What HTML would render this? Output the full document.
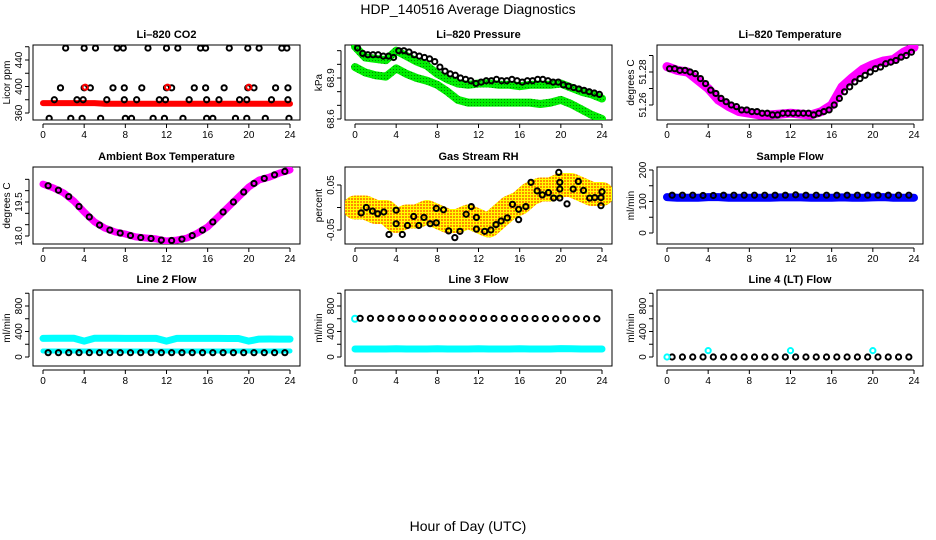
<!DOCTYPE html>
<html><head><meta charset="utf-8"><style>
html,body{margin:0;padding:0;background:#fff;}
svg{display:block;font-family:"Liberation Sans",sans-serif;}
</style></head><body>
<svg id="chart" width="936" height="540" viewBox="0 0 936 540" xmlns="http://www.w3.org/2000/svg">
<defs>
<pattern id="rhpat" width="3" height="3" patternUnits="userSpaceOnUse"><rect width="3" height="3" fill="#ffff00"/><rect width="2" height="2" fill="#ff8c00"/></pattern>
<pattern id="grpat" width="3" height="3" patternUnits="userSpaceOnUse"><rect width="3" height="3" fill="#00ee00"/><rect width="1" height="1" fill="#008800"/></pattern>
</defs>
<text x="468" y="14" text-anchor="middle" font-size="14">HDP_140516  Average Diagnostics</text>
<text x="468" y="531" text-anchor="middle" font-size="14">Hour of Day (UTC)</text>
</svg>
<script>
// ---- data ----
const hoursHourly = [0,1,2,3,4,5,6,7,8,9,10,11,12,13,14,15,16,17,18,19,20,21,22,23,24];
const hoursHalf = [0.25,0.75,1.25,1.75,2.25,2.75,3.25,3.75,4.25,4.75,5.25,5.75,6.25,6.75,7.25,7.75,8.25,8.75,9.25,9.75,10.25,10.75,11.25,11.75,12.25,12.75,13.25,13.75,14.25,14.75,15.25,15.75,16.25,16.75,17.25,17.75,18.25,18.75,19.25,19.75,20.25,20.75,21.25,21.75,22.25,22.75,23.25,23.75];
const xTicks = [0,4,8,12,16,20,24];

// CO2
const co2Band = [375,375,375,375,375,375,374,374,374,374,374,374,374,374,374,374,374,374,374,374,374,374,374,374,374];
const co2PtHours = [2.2,4.0,5.1,7.2,7.8,10.2,12.0,13.1,15.3,15.8,18.1,19.9,21.0,23.2,23.7,
 1.7,4.0,4.6,6.8,7.9,9.6,12.0,12.5,14.7,15.8,17.6,19.9,20.5,22.6,23.8,
 1.1,3.3,3.9,6.2,7.9,9.1,11.3,11.9,14.2,15.9,17.1,19.1,19.8,22.2,23.8,
 0.6,2.7,3.8,5.6,8.0,8.6,10.7,11.8,13.6,15.9,16.5,18.7,19.8,21.6,23.9];
const co2PtValues = [458,458,458,458,458,458,458,458,458,458,458,458,458,458,458,
 398,398,398,398,398,398,398,398,398,398,398,398,398,398,398,
 380,380,380,380,380,380,380,380,380,380,380,380,380,380,380,
 352,352,352,352,352,352,352,352,352,352,352,352,352,352,352];
const co2RedHours = [4.1,12.1,20.0];
const co2RedValues = [399,399,399];

// Pressure
const presUpper = [69.13,69.05,69.04,69.03,69.10,69.06,69.02,68.99,68.93,68.89,68.86,68.85,68.86,68.86,68.85,68.85,68.84,68.85,68.85,68.85,68.86,68.83,68.80,68.78,68.75];
const presLower = [68.98,68.94,68.92,68.91,68.97,68.93,68.90,68.88,68.85,68.80,68.74,68.72,68.72,68.72,68.72,68.72,68.72,68.72,68.71,68.72,68.74,68.71,68.67,68.63,68.60];
const presPts = [69.12,69.08,69.07,69.07,69.07,69.06,69.06,69.05,69.10,69.10,69.09,69.07,69.06,69.05,69.04,69.02,68.98,68.95,68.93,68.92,68.90,68.89,68.88,68.86,68.87,68.88,68.88,68.89,68.88,68.88,68.89,68.88,68.87,68.88,68.88,68.89,68.89,68.88,68.87,68.87,68.85,68.84,68.83,68.82,68.81,68.80,68.79,68.78];

// Li-820 Temperature
const tempBand = [51.2833,51.281,51.280,51.275,51.270,51.263,51.259,51.256,51.255,51.254,51.254,51.2545,51.255,51.2545,51.254,51.256,51.260,51.271,51.2766,51.2815,51.2845,51.2866,51.2876,51.292,51.295];
const tempPts = [51.282,51.282,51.281,51.281,51.280,51.279,51.276,51.273,51.269,51.267,51.264,51.262,51.260,51.259,51.257,51.257,51.256,51.256,51.255,51.255,51.254,51.254,51.255,51.255,51.255,51.255,51.255,51.255,51.254,51.255,51.256,51.257,51.260,51.264,51.268,51.271,51.274,51.276,51.278,51.280,51.282,51.283,51.285,51.286,51.287,51.289,51.290,51.292];

// Ambient
const ambBand = [20.29,20.12,19.90,19.54,19.06,18.62,18.35,18.18,18.09,17.96,17.91,17.87,17.78,17.82,17.91,18.13,18.40,18.84,19.28,19.72,20.16,20.47,20.60,20.78,20.91];
const ambPts = [20.22,20.02,19.74,19.30,18.84,18.48,18.26,18.13,18.02,17.93,17.89,17.82,17.80,17.86,18.02,18.26,18.62,19.06,19.50,19.94,20.32,20.54,20.70,20.85];

// Gas stream RH
const rhBand = [0.00,0.00,-0.01,-0.01,-0.03,-0.02,-0.02,-0.01,-0.02,-0.03,-0.03,-0.02,-0.03,-0.04,-0.02,0.00,0.01,0.03,0.04,0.04,0.05,0.05,0.04,0.03,0.03];
const rhPtHours = [0.6,1.1,1.7,2.2,2.8,3.3,4.0,4.0,4.6,5.1,5.7,6.2,6.7,7.3,7.9,7.9,8.6,9.1,9.7,10.2,10.8,11.3,11.8,11.8,12.6,13.2,13.7,14.2,14.8,15.3,15.9,15.9,16.6,17.1,17.7,18.2,18.8,19.3,19.8,19.9,19.9,19.9,20.6,21.2,21.7,22.2,22.8,23.3,23.9,24.0,23.9];
const rhPtValues = [-0.012,0.000,-0.008,-0.014,-0.010,-0.060,-0.036,-0.006,-0.060,-0.040,-0.020,-0.040,-0.022,-0.036,-0.034,-0.002,-0.005,-0.052,-0.067,-0.053,-0.015,0.002,-0.022,-0.048,-0.053,-0.050,-0.038,-0.030,-0.023,0.007,-0.004,-0.027,0.002,0.056,0.037,0.028,0.033,0.021,0.078,0.056,0.041,0.021,0.008,0.041,0.058,0.038,0.021,0.022,0.022,0.035,0.004];

// Flows
const sampleBand = [114,112,112,112,114,114,112,112,112,112,112,113,113,113,112,112,112,113,112,112,113,114,112,112,112];
const samplePts = [120,120,120,119,119,120,120,120,120,120,120,120,121,120,120,120,120,120,120,120,120,120,120,120];
const line2Upper = [292,294,294,294,250,294,294,294,292,292,292,292,250,292,292,292,292,292,290,290,250,280,282,280,280];
const line2Lower = [94,94,94,94,94,94,94,94,94,94,94,94,94,94,94,94,94,94,94,94,94,94,94,94,94];
const line2Pts = [68,68,68,68,68,68,68,68,68,68,68,68,68,68,68,68,68,68,68,68,68,68,68,68];
const line3Lower = [125,125,125,125,130,125,125,125,128,125,125,125,130,125,125,125,128,125,125,125,132,128,125,125,125];
const line3Pts = [607,607,607,607,607,607,607,607,607,607,607,607,605,605,605,605,604,603,602,600,600,600,600,600];
const line4Pts = [0,0,0,0,0,0,0,0,0,0,0,0,0,0,0,0,0,0,0,0,0,0,0,0];
const line4CyanHours = [0,4,12,20];
const line4CyanValues = [0,100,100,100];
const hoursMid = [0.5,1.5,2.5,3.5,4.5,5.5,6.5,7.5,8.5,9.5,10.5,11.5,12.5,13.5,14.5,15.5,16.5,17.5,18.5,19.5,20.5,21.5,22.5,23.5];

// ---- layout ----
const svg = document.getElementById('chart');
const NS = 'http://www.w3.org/2000/svg';
const cols = [{l:33,r:300,x0:43,x24:290},{l:345,r:612,x0:355,x24:602},{l:657,r:923,x0:667,x24:914}];
const rows = [{t:45,b:120},{t:167,b:244},{t:290,b:366}];

function mk(tag, attrs, parent){const e=document.createElementNS(NS,tag);for(const k in attrs)e.setAttribute(k,attrs[k]);(parent||svg).appendChild(e);return e;}

function panel(name, ci, ri, title, ylab, cal, ticks, labels){
  const c=cols[ci], r=rows[ri];
  const g=mk('g',{});
  
  
  const xs=h=>c.x0+(c.x24-c.x0)*h/24;
  const ys=v=>cal[1]+(v-cal[0])*(cal[3]-cal[1])/(cal[2]-cal[0]);
  const t=mk('text',{x:(c.l+c.r)/2,y:r.t-7,'text-anchor':'middle','font-size':11,'font-weight':'bold'},g);
  t.textContent=title;
  
  
  const box=mk('rect',{x:c.l,y:r.t,width:c.r-c.l,height:r.b-r.t,fill:'none',stroke:'#000','stroke-width':1},g);
  
  
  const xa=mk('g',{},g);
  
  
  mk('line',{x1:xs(0),x2:xs(24),y1:r.b+4,y2:r.b+4,stroke:'#000'},xa);
  xTicks.forEach(h=>{
    mk('line',{x1:xs(h),x2:xs(h),y1:r.b+4,y2:r.b+8,stroke:'#000'},xa);
    const tl=mk('text',{x:xs(h),y:r.b+18,'text-anchor':'middle','font-size':10},xa);
    tl.textContent=h;
  });
  const ya=mk('g',{},g);
  
  
  mk('line',{x1:c.l-4,x2:c.l-4,y1:ys(ticks[0]),y2:ys(ticks[ticks.length-1]),stroke:'#000'},ya);
  ticks.forEach(v=>mk('line',{x1:c.l-8,x2:c.l-4,y1:ys(v),y2:ys(v),stroke:'#000'},ya));
  labels.forEach(v=>{
    const y=ys(v), x=c.l-11;
    const tl=mk('text',{x:x,y:y,'text-anchor':'middle','font-size':10,transform:`rotate(-90 ${x} ${y})`},ya);
    tl.textContent=v;
  });
  const yt=mk('text',{x:c.l-23,y:(r.t+r.b)/2,'text-anchor':'middle','font-size':10,transform:`rotate(-90 ${c.l-23} ${(r.t+r.b)/2})`},g);
  yt.textContent=ylab;
  
  
  const clip='clip-'+name;
  const cp=mk('clipPath',{id:clip},g); mk('rect',{x:c.l,y:r.t,width:c.r-c.l,height:r.b-r.t},cp);
  const plot=mk('g',{'clip-path':`url(#${clip})`},g);
  return {xs,ys,plot};
}
function band(p, name, hours, vals, color, w){
  const d=hours.map((h,i)=>(i?'L':'M')+p.xs(h).toFixed(1)+','+p.ys(vals[i]).toFixed(1)).join(' ');
  const e=mk('path',{d:d,fill:'none',stroke:color,'stroke-width':w,'stroke-linejoin':'round','stroke-linecap':'round'},p.plot);
  
  
}
function pts(p, name, hours, vals, color, r){
  const g=mk('g',{},p.plot);
  
  
  hours.forEach((h,i)=>{
    const e=mk('circle',{cx:p.xs(h),cy:p.ys(vals[i]),r:r||2.6,fill:'none',stroke:color||'#000','stroke-width':2},g);
    
    
  });
}

// CO2
let p=panel('co2',0,0,'Li\u2013820 CO2','Licor ppm',[360,113,440,60],[360,380,400,420,440,460],[360,400,440]);
band(p,'co2-band',hoursHourly,co2Band,'#ff0000',6);
pts(p,'co2-points',co2PtHours,co2PtValues,'#000');
pts(p,'co2-red-points',co2RedHours,co2RedValues,'#ff0000');
// Pressure
p=panel('pressure',1,0,'Li\u2013820 Pressure','kPa',[68.6,119,68.9,78],[68.6,68.7,68.8,68.9,69.0,69.1],['68.6','68.9']);
band(p,'pressure-upper-band',hoursHourly,presUpper,'url(#grpat)',8);
band(p,'pressure-lower-band',hoursHourly,presLower,'url(#grpat)',8);
pts(p,'pressure-points',hoursHalf,presPts,'#000');
// Temp
p=panel('li820-temp',2,0,'Li\u2013820 Temperature','degrees C',[51.26,105,51.28,72],[51.26,51.27,51.28,51.29],['51.26','51.28']);
band(p,'li820-temp-band',hoursHourly,tempBand,'#ff00ff',9);
pts(p,'li820-temp-points',hoursHalf,tempPts,'#000');
// Ambient
p=panel('ambient',0,1,'Ambient Box Temperature','degrees C',[18.0,236,19.5,202],[18.0,18.5,19.0,19.5,20.0,20.5],['18.0','19.5']);
band(p,'ambient-band',hoursHourly,ambBand,'#ff00ff',7);
pts(p,'ambient-points',hoursMid,ambPts,'#000');
// RH
p=panel('rh',1,1,'Gas Stream RH','percent',[-0.05,230,0.05,185],[-0.05,0,0.05],['-0.05','0.05']);
band(p,'rh-band',hoursHourly,rhBand,'url(#rhpat)',24);
pts(p,'rh-points',rhPtHours,rhPtValues,'#000');
// Sample flow
p=panel('sample-flow',2,1,'Sample Flow','ml/min',[0,233,200,170],[0,50,100,150,200],[0,100,200]);
band(p,'sample-flow-band',hoursHourly,sampleBand,'#0000ff',8);
pts(p,'sample-flow-points',hoursMid,samplePts,'#000');
// Line 2
p=panel('line2',0,2,'Line 2 Flow','ml/min',[0,357,800,306],[0,200,400,600,800,1000],[0,400,800]);
band(p,'line2-upper-band',hoursHourly,line2Upper,'#00ffff',7);
band(p,'line2-lower-band',hoursHourly,line2Lower,'#00ffff',5);
pts(p,'line2-points',hoursMid,line2Pts,'#000');
// Line 3
p=panel('line3',1,2,'Line 3 Flow','ml/min',[0,357,800,306],[0,200,400,600,800,1000],[0,400,800]);
band(p,'line3-lower-band',hoursHourly,line3Lower,'#00ffff',7);
pts(p,'line3-cyan-start',[0],[600],'#00ffff',3);
pts(p,'line3-points',hoursMid,line3Pts,'#000');
// Line 4
p=panel('line4',2,2,'Line 4 (LT) Flow','ml/min',[0,357,800,306],[0,200,400,600,800,1000],[0,400,800]);
pts(p,'line4-points',hoursMid,line4Pts,'#000');
pts(p,'line4-cyan-points',line4CyanHours,line4CyanValues,'#00ffff');
</script>
</body></html>
